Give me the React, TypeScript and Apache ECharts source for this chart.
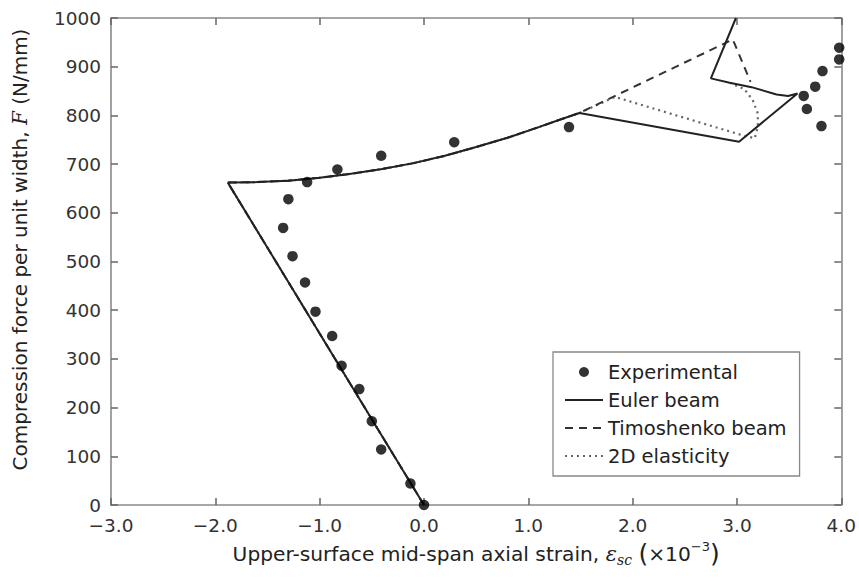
import React, { useEffect, useRef } from "react";
import * as echarts from "echarts";

// Experimental points [strain (x10^-3), force (N/mm)]
const experimental: [number, number][] = [
  [0.0, 0], [-0.13, 44], [-0.41, 114], [-0.5, 172], [-0.62, 238], [-0.79, 286],
  [-0.88, 347], [-1.04, 397], [-1.14, 457], [-1.26, 511], [-1.35, 569], [-1.3, 628],
  [-1.12, 663], [-0.83, 689], [-0.41, 717], [0.29, 745], [1.39, 776],
  [3.98, 939], [3.98, 915], [3.82, 891], [3.75, 859], [3.64, 840], [3.67, 813], [3.81, 778],
];

// Common pre-buckling / early post-buckling path
const sharedPath: [number, number][] = [
  [0, 0], [-1.88, 662], [-1.6, 663], [-1.3, 666], [-1.0, 672], [-0.7, 680], [-0.4, 690],
  [-0.1, 702], [0.2, 717], [0.5, 735], [0.8, 754], [1.1, 776], [1.3, 791], [1.49, 805],
];

const eulerBranch: [number, number][] = [
  [3.02, 746], [3.58, 845], [3.49, 840], [3.38, 843], [3.14, 858], [2.93, 867], [2.75, 876], [2.99, 1000],
];

const timoshenkoBranch: [number, number][] = [
  [2.96, 956], [3.13, 869],
];

const elasticityBranch: [number, number][] = [
  [1.83, 838], [3.04, 760], [3.17, 753], [3.2, 777], [3.2, 804], [3.15, 832], [3.07, 854], [2.94, 866],
];

const seriesNames = ["Experimental", "Euler beam", "Timoshenko beam", "2D elasticity"];

const fmtX = (v: number) => (v < 0 ? "\u2212" : "") + Math.abs(v).toFixed(1);
const fmtY = (v: number) => String(Math.round(v));
const clear = "rgba(0,0,0,0)";

export default function App() {
  const ref = useRef<HTMLDivElement>(null);
  useEffect(() => {
    if (!ref.current) return;
    const chart = echarts.init(ref.current, undefined, { renderer: "svg" });
    const axisLine = { onZero: false, lineStyle: { color: "#8a8a8a", width: 1.6 } };
    const axisTick = { inside: true, length: 7, lineStyle: { color: "#666", width: 1.5 } };
    const labelFont = { fontFamily: "DejaVu Sans", fontSize: 18.5, color: "#333" };
    chart.setOption({
      animation: false,
      backgroundColor: "#fff",
      grid: { left: 111, top: 18, width: 731, height: 487 },
      xAxis: [
        {
          type: "value", min: -3, max: 4, interval: 1, position: "bottom",
          axisLine, axisTick,
          axisLabel: { ...labelFont, margin: 11, formatter: fmtX },
          splitLine: { show: false },
          name: "{a|Upper-surface mid-span axial strain, }{e|\u03b5}{s|sc}{a| }{p|(}{a|\u00d710}{u|\u22123}{p|)}",
          nameLocation: "middle",
          nameGap: 35,
          nameTextStyle: {
            rich: {
              a: { fontFamily: "DejaVu Sans", fontSize: 20.2, color: "#222" },
              e: { fontFamily: "DejaVu Serif", fontStyle: "italic", fontSize: 21, color: "#222" },
              s: { fontFamily: "DejaVu Serif", fontStyle: "italic", fontSize: 14, color: "#222", padding: [12, 0, 0, 0] },
              u: { fontFamily: "DejaVu Sans", fontSize: 13, color: "#222", padding: [0, 0, 14, 0] },
              p: { fontFamily: "DejaVu Sans", fontSize: 25, color: "#222" },
            },
          },
        },
        {
          type: "value", min: -3, max: 4, interval: 1, position: "top",
          axisLine, axisTick, axisLabel: { show: false }, splitLine: { show: false },
        },
      ],
      yAxis: [
        {
          type: "value", min: 0, max: 1000, interval: 100, position: "left",
          axisLine, axisTick,
          axisLabel: { ...labelFont, margin: 10, formatter: fmtY },
          splitLine: { show: false },
          name: "{a|Compression force per unit width, }{f|F}{a| (N/mm)}",
          nameLocation: "middle",
          nameGap: 81,
          nameTextStyle: {
            padding: [0, 0, 0, 24],
            rich: {
              a: { fontFamily: "DejaVu Sans", fontSize: 20, color: "#222" },
              f: { fontFamily: "DejaVu Serif", fontStyle: "italic", fontSize: 20, color: "#222" },
            },
          },
        },
        {
          type: "value", min: 0, max: 1000, interval: 100, position: "right",
          axisLine, axisTick, axisLabel: { show: false }, splitLine: { show: false },
        },
      ],
      legend: {
        data: seriesNames,
        orient: "vertical",
        left: 553,
        top: 352,
        padding: [10, 13, 10, 11],
        itemGap: 8,
        itemWidth: 38,
        itemHeight: 10,
        selectedMode: false,
        borderColor: "#888",
        borderWidth: 1.3,
        borderRadius: 0,
        backgroundColor: "#fff",
        textStyle: { fontFamily: "DejaVu Sans", fontSize: 19.5, color: "#222", lineHeight: 20 },
      },
      series: [
        {
          name: "2D elasticity", type: "line", symbol: "none",
          data: [...sharedPath, ...elasticityBranch],
          lineStyle: { color: "#666", width: 2.2, type: [2, 4] },
          itemStyle: { color: clear, borderColor: clear },
        },
        {
          name: "Timoshenko beam", type: "line", symbol: "none",
          data: [...sharedPath, ...timoshenkoBranch],
          lineStyle: { color: "#333", width: 2, type: [8, 6] },
          itemStyle: { color: clear, borderColor: clear },
        },
        {
          name: "Euler beam", type: "line", symbol: "none",
          data: [...sharedPath, ...eulerBranch],
          lineStyle: { color: "#222", width: 2 },
          itemStyle: { color: clear, borderColor: clear },
        },
        {
          name: "Experimental", type: "scatter", symbol: "circle", symbolSize: 10.5,
          data: experimental,
          itemStyle: { color: "#000" },
          z: 5,
        },
      ],
    });
    return () => chart.dispose();
  }, []);
  return (
    <div
      ref={ref}
      style={{ position: "fixed", left: 0, top: 0, width: 859, height: 581 }}
    />
  );
}
